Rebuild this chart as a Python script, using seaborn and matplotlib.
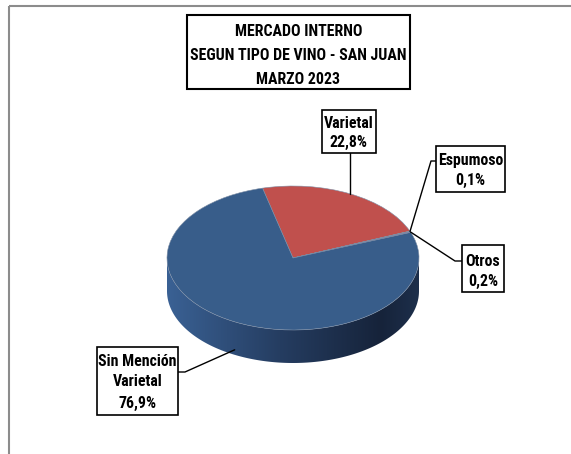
import numpy as np
import matplotlib
matplotlib.use("Agg")
import matplotlib.pyplot as plt
from matplotlib import font_manager
from matplotlib.patches import Rectangle, Polygon
from matplotlib.transforms import Affine2D
from matplotlib.colors import LinearSegmentedColormap
import seaborn as sns

# datos del grafico
titulo = ["MERCADO INTERNO", "SEGUN TIPO DE VINO - SAN JUAN", "MARZO 2023"]
categorias = ["Varietal", "Espumoso", "Otros", "Sin Mención\nVarietal"]
porcentajes = [22.8, 0.1, 0.2, 76.9]
etiquetas_pct = ["22,8%", "0,1%", "0,2%", "76,9%"]
colores = sns.color_palette(["#c0504d", "#9bbb59", "#8064a2", "#385d8a"])

sns.set_theme(style="white")
# fuente angosta parecida a Calibri si esta disponible
instaladas = {f.name for f in font_manager.fontManager.ttflist}
familia = next((f for f in ["Liberation Sans Narrow", "Roboto Condensed", "Open Sans Condensed",
                             "Lato", "Roboto"] if f in instaladas), "DejaVu Sans")
plt.rcParams["font.family"] = [familia, "DejaVu Sans"]

W, H = 571, 454
fig = plt.figure(figsize=(W / 100, H / 100), dpi=100)
ax = fig.add_axes([0, 0, 1, 1])

# geometria de la torta (pixeles, y hacia abajo)
cx, cy = 293, 258
rx, ry = 126, 72
prof = 33

wedges, _ = ax.pie(porcentajes, colors=colores, center=(cx, cy), radius=rx,
                   startangle=-104, counterclock=True,
                   wedgeprops=dict(linewidth=0.4, edgecolor="#7f8fa6"))
aplastar = Affine2D().translate(-cx, -cy).scale(1, ry / rx).translate(cx, cy)
for w in wedges:
    w.set_transform(aplastar + ax.transData)
    w.set_zorder(3)

ax.set_xlim(0, W)
ax.set_ylim(H, 0)
ax.set_aspect("auto")
ax.axis("off")

# lateral de la torta con degradado
t = np.linspace(0, np.pi, 200)
arriba = np.column_stack([cx + rx * np.cos(t), cy + ry * np.sin(t)])
abajo = arriba[::-1] + [0, prof]
lado = Polygon(np.vstack([arriba, abajo]), closed=True, fc="none", ec="none")
ax.add_patch(lado)
cmap = LinearSegmentedColormap.from_list(
    "lado", [(0, "#3a6194"), (0.45, "#253d61"), (0.85, "#16233a"), (1, "#1d2f4b")])
grad = np.linspace(0, 1, 256).reshape(1, -1)
im = ax.imshow(grad, cmap=cmap, extent=(cx - rx, cx + rx, cy + ry + prof, cy - ry),
               aspect="auto", zorder=2)
im.set_clip_path(lado)
ax.set_xlim(0, W)
ax.set_ylim(H, 0)

# tamaño de letra ajustado al ancho del titulo del original (~217 px)
renderer = fig.canvas.get_renderer()
prueba = ax.text(0, 0, titulo[1], fontsize=11, fontweight="bold")
ancho = prueba.get_window_extent(renderer).width
prueba.remove()
fs = 11 * 217 / ancho


def ancla(w):
    ang = np.deg2rad((w.theta1 + w.theta2) / 2)
    x = cx + rx * np.cos(ang)
    y = cy + ry * np.sin(ang)
    if np.sin(ang) > 0.3:
        y += prof - 5
    return x, y


# cajas de etiquetas: (x0, y0, x1, y1), y de cada linea, codo del conector
cajas = [(322, 110, 376, 153), (436, 146, 505, 192), (462, 245, 504, 292), (97, 347, 178, 415)]
lineas_y = [[124, 142], [161, 180], [261, 281], [362, 382, 403]]
codos = [None, [(436, 161), (431, 161)], [(462, 261), (455, 261)], [(178, 372), (185, 372)]]

for i, w in enumerate(wedges):
    x0, y0, x1, y1 = cajas[i]
    ax.add_patch(Rectangle((x0, y0), x1 - x0, y1 - y0, fc="white", ec="black", lw=1.2, zorder=5))
    textos = categorias[i].split("\n") + [etiquetas_pct[i]]
    for txt, yy in zip(textos, lineas_y[i]):
        ax.text((x0 + x1) / 2, yy, txt, ha="center", va="center", fontsize=fs,
                fontweight="bold", color="black", zorder=6)
    axx, ayy = ancla(w)
    if codos[i] is None:
        pts = [(axx, y1), (axx, ayy)]
    else:
        pts = codos[i] + [(axx, ayy)]
    pts = np.array(pts)
    ax.plot(pts[:, 0], pts[:, 1], color="black", lw=1.0, zorder=4)

# caja del titulo
ax.add_patch(Rectangle((187, 15), 223, 74, fc="white", ec="black", lw=1.5, zorder=5))
for txt, yy in zip(titulo, [32, 56, 79]):
    ax.text(298.5, yy, txt, ha="center", va="center", fontsize=fs,
            fontweight="bold", color="black", zorder=6)

# marco del area del grafico
ax.add_patch(Rectangle((8.5, 5.5), 600, 500, fill=False, ec="#8c8c8c", lw=1.5, zorder=1))

fig.savefig("out.png", dpi=100)
